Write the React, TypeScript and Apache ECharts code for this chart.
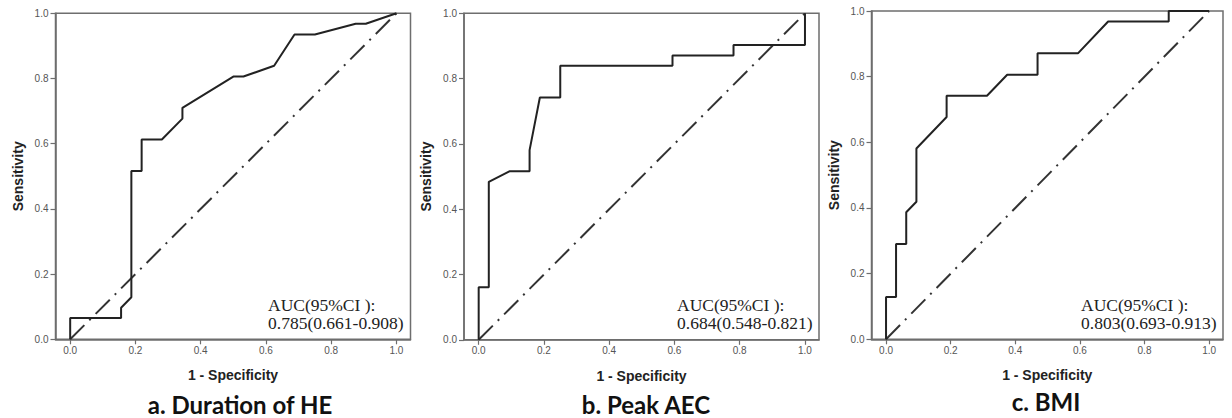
import React, { useEffect, useRef } from "react";
import * as echarts from "echarts";

// ROC curve for "Duration of HE"
const durationFpr = [0, 0, 0.156, 0.156, 0.1875, 0.1875, 0.219, 0.219, 0.281, 0.344, 0.344, 0.5, 0.531, 0.625, 0.6875, 0.75, 0.875, 0.906, 1];
const durationTpr = [0, 0.065, 0.065, 0.097, 0.129, 0.516, 0.516, 0.613, 0.613, 0.677, 0.71, 0.806, 0.806, 0.839, 0.935, 0.935, 0.968, 0.968, 1];

// ROC curve for "Peak AEC"
const peakFpr = [0, 0, 0.031, 0.031, 0.094, 0.156, 0.156, 0.1875, 0.25, 0.25, 0.594, 0.594, 0.781, 0.781, 1, 1];
const peakTpr = [0, 0.161, 0.161, 0.484, 0.516, 0.516, 0.581, 0.742, 0.742, 0.839, 0.839, 0.871, 0.871, 0.903, 0.903, 1];

// ROC curve for "BMI"
const bmiFpr = [0, 0, 0.031, 0.031, 0.0625, 0.0625, 0.094, 0.094, 0.1875, 0.1875, 0.3125, 0.375, 0.469, 0.469, 0.594, 0.6875, 0.875, 0.875, 1];
const bmiTpr = [0, 0.129, 0.129, 0.29, 0.29, 0.387, 0.419, 0.581, 0.677, 0.742, 0.742, 0.806, 0.806, 0.871, 0.871, 0.968, 0.968, 1, 1];

// Reference (chance) line
const diagonalX = [0, 1];
const diagonalY = [0, 1];

const tickValues = [0, 0.2, 0.4, 0.6, 0.8, 1.0];
const panelTitles = ["a. Duration of HE", "b. Peak AEC", "c. BMI"];
const aucHeads = ["AUC(95%CI ):", "AUC(95%CI ):", "AUC(95%CI ):"];
const aucValues = ["0.785(0.661-0.908)", "0.684(0.548-0.821)", "0.803(0.693-0.913)"];
const xAxisName = "1 - Specificity";
const yAxisName = "Sensitivity";

const curves = [
  { fpr: durationFpr, tpr: durationTpr },
  { fpr: peakFpr, tpr: peakTpr },
  { fpr: bmiFpr, tpr: bmiTpr },
];

// layout (pixels)
const grids = [
  { left: 55.5, top: 13.3, width: 355, height: 326 },
  { left: 464, top: 13.3, width: 355, height: 326.5 },
  { left: 871.5, top: 11, width: 351.5, height: 328.3 },
];
const titlePos = [
  { x: 240, y: 404 },
  { x: 646, y: 404 },
  { x: 1046, y: 401.5 },
];
const aucPos = [
  { x: 268, y: 296 },
  { x: 677, y: 296 },
  { x: 1081, y: 296 },
];

const AXIS_COLOR = "#6e6e6e";
const LABEL_COLOR = "#555";
const SANS = "'Liberation Sans', Arial, sans-serif";

export default function App() {
  const ref = useRef<HTMLDivElement>(null);

  useEffect(() => {
    if (!ref.current) return;
    const chart = echarts.init(ref.current, null, { renderer: "svg" });

    const gridOpts = grids.map((g) => ({
      left: g.left,
      top: g.top,
      width: g.width,
      height: g.height,
      show: true,
      borderColor: AXIS_COLOR,
      borderWidth: 1.5,
      backgroundColor: "#fff",
      containLabel: false,
    }));

    const xAxes = grids.map((_, i) => ({
      gridIndex: i,
      type: "value",
      min: -0.045,
      max: 1.043,
      axisLine: { show: true, onZero: false, lineStyle: { color: AXIS_COLOR, width: 1.5 } },
      axisTick: { show: true, customValues: tickValues, length: 5, lineStyle: { color: AXIS_COLOR, width: 1.2 } },
      axisLabel: {
        customValues: tickValues,
        formatter: (v: number) => v.toFixed(1),
        color: LABEL_COLOR,
        fontSize: 10,
        fontFamily: SANS,
        margin: 6,
      },
      splitLine: { show: false },
      name: xAxisName,
      nameLocation: "middle",
      nameGap: 29,
      nameTextStyle: { fontFamily: SANS, fontWeight: "bold", fontSize: 14, color: "#222" },
    }));

    const yAxes = grids.map((_, i) => ({
      gridIndex: i,
      type: "value",
      min: 0,
      max: 1,
      interval: 0.2,
      axisLine: { show: true, onZero: false, lineStyle: { color: AXIS_COLOR, width: 1.5 } },
      axisTick: { show: true, length: 5, lineStyle: { color: AXIS_COLOR, width: 1.2 } },
      axisLabel: {
        formatter: (v: number) => v.toFixed(1),
        color: LABEL_COLOR,
        fontSize: 10,
        fontFamily: SANS,
        margin: 7,
      },
      splitLine: { show: false },
      name: yAxisName,
      nameLocation: "middle",
      nameGap: 31,
      nameTextStyle: { fontFamily: SANS, fontWeight: "bold", fontSize: 14, color: "#222" },
    }));

    const series: any[] = [];
    curves.forEach((c, i) => {
      series.push({
        type: "line",
        xAxisIndex: i,
        yAxisIndex: i,
        data: diagonalX.map((x, k) => [x, diagonalY[k]]),
        symbol: "none",
        clip: false,
        silent: true,
        lineStyle: { color: "#333", width: 2, type: [20, 7, 2, 7] },
      });
      series.push({
        type: "line",
        xAxisIndex: i,
        yAxisIndex: i,
        data: c.fpr.map((x, k) => [x, c.tpr[k]]),
        symbol: "none",
        clip: false,
        silent: true,
        lineStyle: { color: "#222", width: 2 },
      });
    });

    const graphics: any[] = [];
    panelTitles.forEach((t, i) => {
      graphics.push({
        type: "text",
        x: titlePos[i].x,
        y: titlePos[i].y,
        style: {
          text: t,
          align: "center",
          verticalAlign: "middle",
          fill: "#111",
          lineHeight: 24,
          font: "bold 24px Lato, 'Open Sans', sans-serif",
        },
      });
      graphics.push({
        type: "text",
        x: aucPos[i].x,
        y: aucPos[i].y,
        z: 100,
        style: {
          text: aucHeads[i] + "\n" + aucValues[i],
          align: "left",
          verticalAlign: "top",
          fill: "#222",
          lineHeight: 18,
          font: "17.5px 'Liberation Serif', 'Times New Roman', serif",
        },
      });
    });

    chart.setOption({
      animation: false,
      backgroundColor: "#fff",
      grid: gridOpts,
      xAxis: xAxes,
      yAxis: yAxes,
      series,
      graphic: graphics,
    });

    return () => chart.dispose();
  }, []);

  return (
    <div
      ref={ref}
      style={{ position: "absolute", left: 0, top: 0, width: 1232, height: 418 }}
    />
  );
}
